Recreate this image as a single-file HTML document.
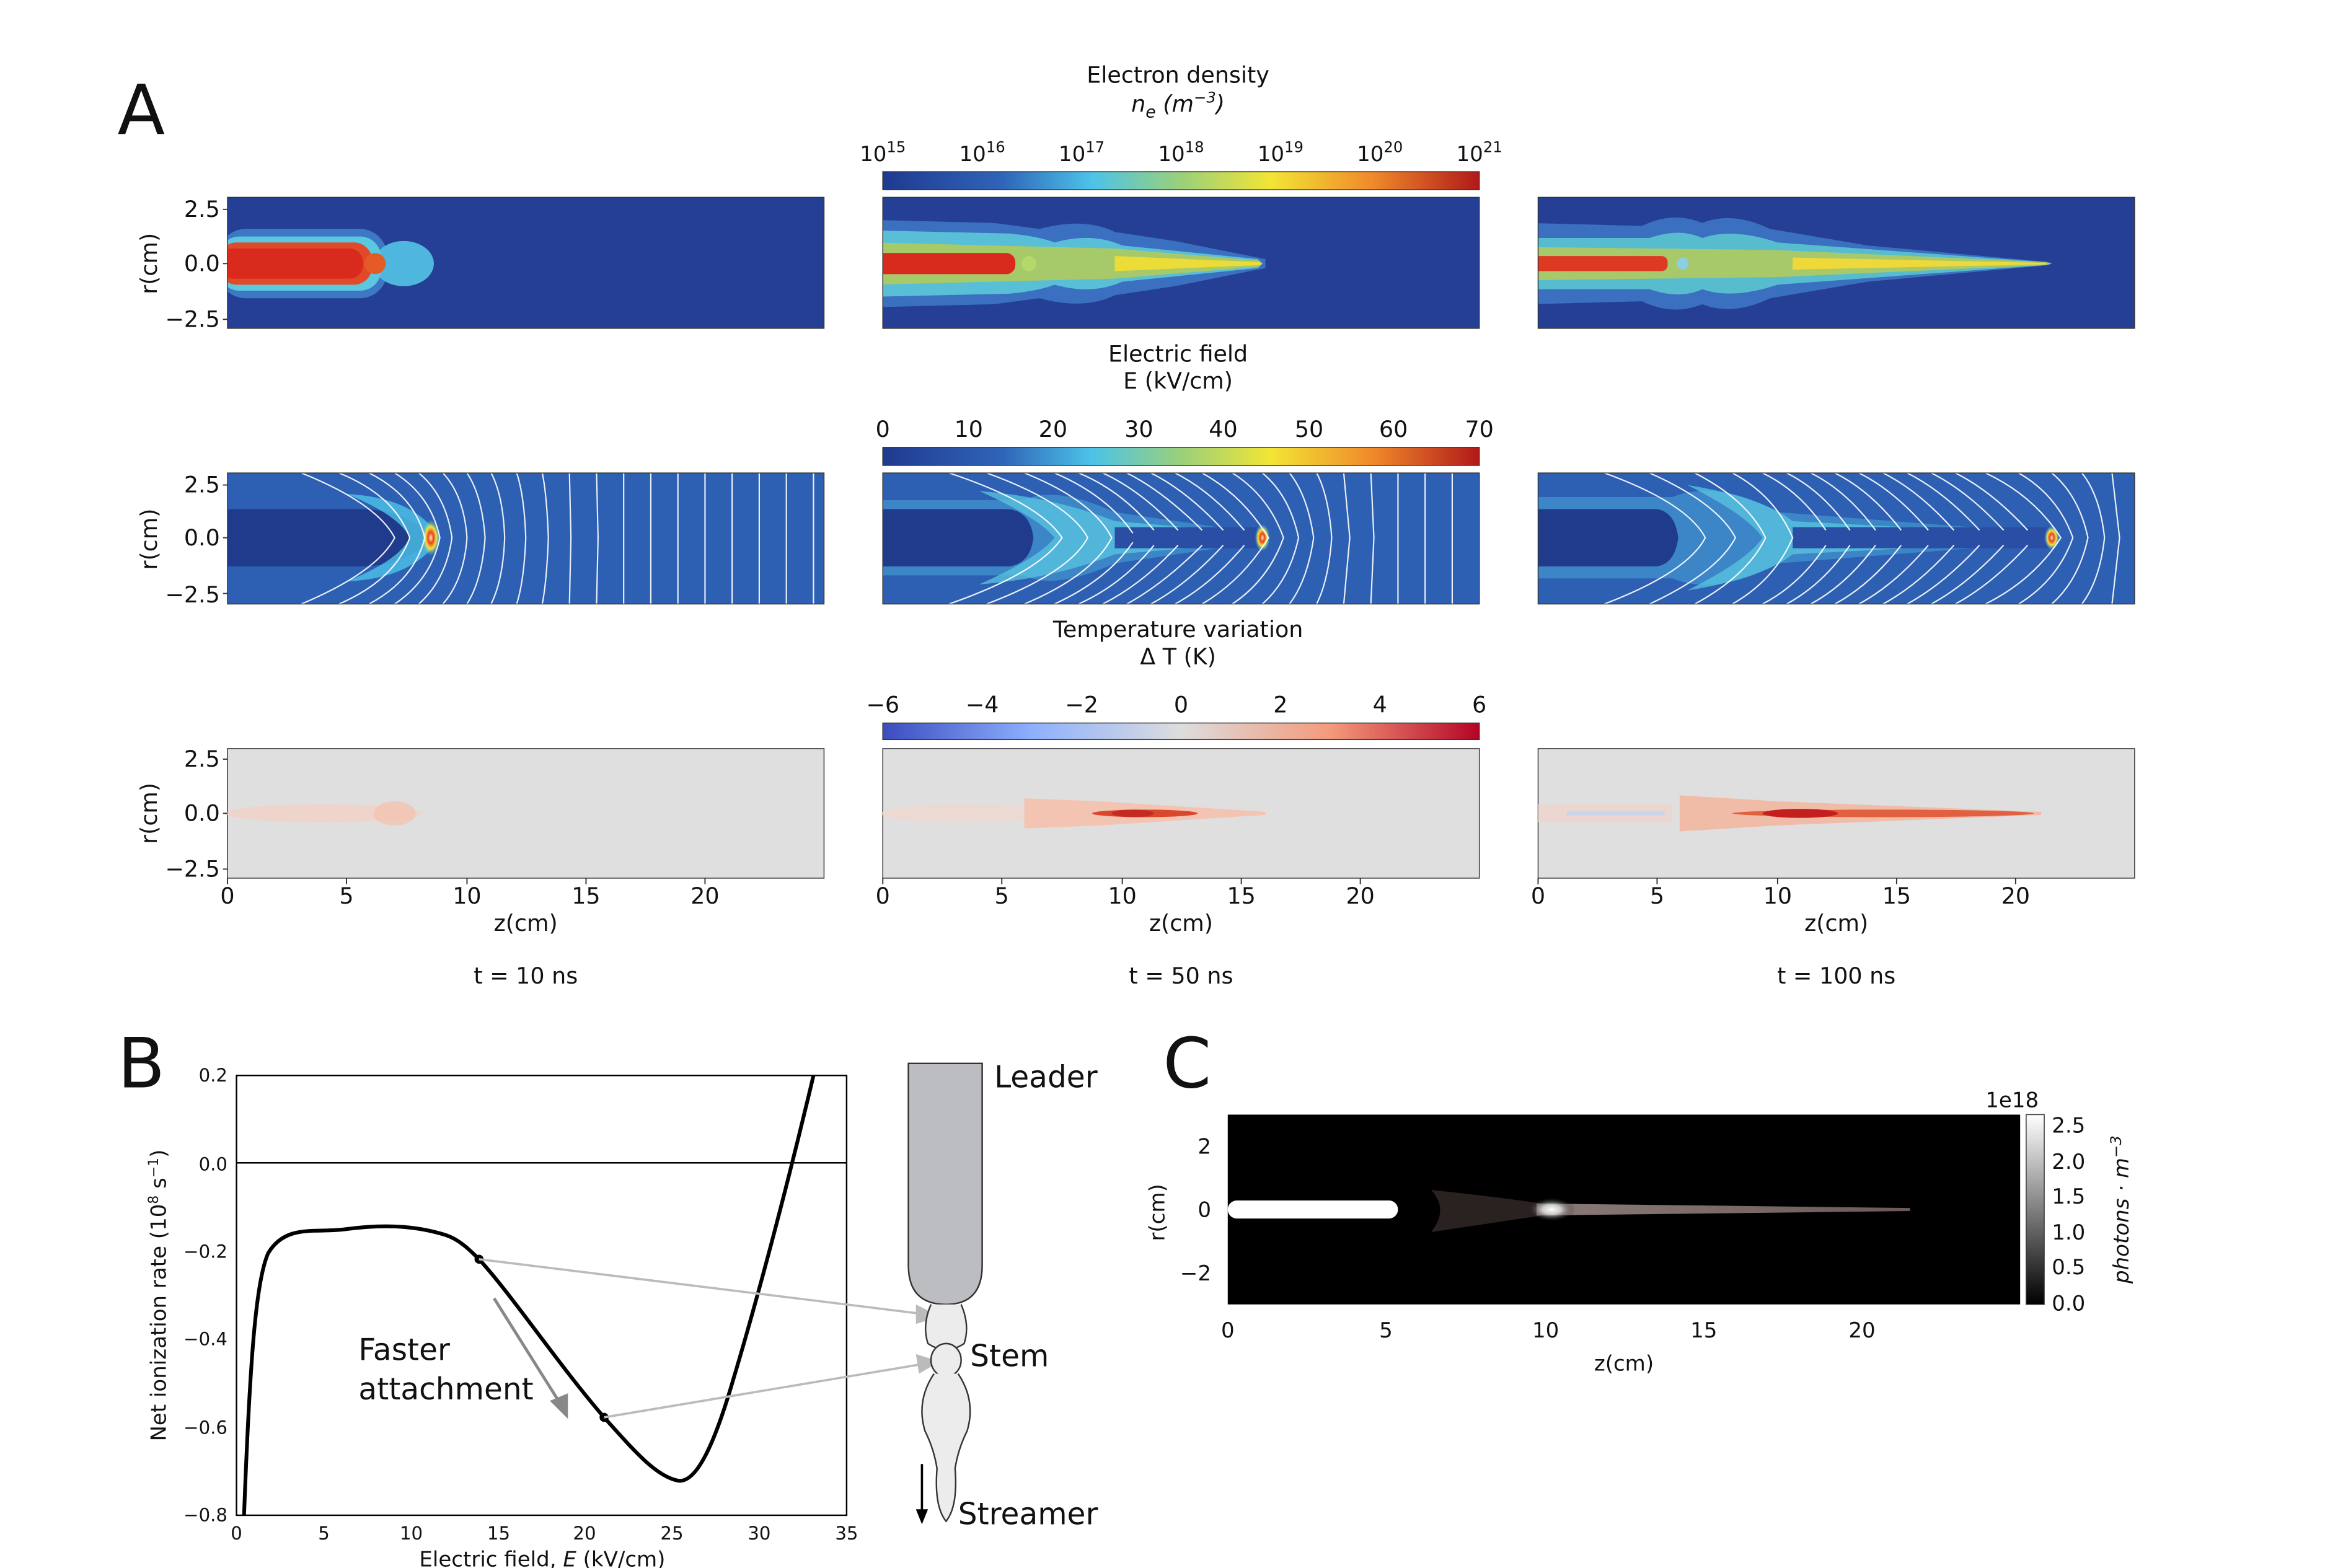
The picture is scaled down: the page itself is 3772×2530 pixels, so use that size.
<!DOCTYPE html>
<html><head><meta charset="utf-8"><style>
html,body{margin:0;padding:0;background:#fff;}
svg{display:block;}
text{font-family:"DejaVu Sans","Liberation Sans",sans-serif;fill:#111;}
</style></head><body>
<svg width="3772" height="2530" viewBox="0 0 1552 1041" preserveAspectRatio="none" xmlns="http://www.w3.org/2000/svg">
<defs>
<linearGradient id="jet" x1="0" x2="1">
<stop offset="0" stop-color="#1f3a8f"/><stop offset="0.2" stop-color="#2f64b8"/><stop offset="0.35" stop-color="#4cc3e8"/><stop offset="0.5" stop-color="#9ad07a"/><stop offset="0.65" stop-color="#f2e535"/><stop offset="0.82" stop-color="#f08a2a"/><stop offset="1" stop-color="#b01919"/></linearGradient>
<linearGradient id="cw" x1="0" x2="1">
<stop offset="0" stop-color="#3b4cc0"/><stop offset="0.25" stop-color="#8db0fe"/><stop offset="0.5" stop-color="#dddddd"/><stop offset="0.75" stop-color="#f49a7b"/><stop offset="1" stop-color="#b40426"/></linearGradient>
<linearGradient id="gray" x1="0" y1="1" x2="0" y2="0"><stop offset="0" stop-color="#000"/><stop offset="1" stop-color="#fff"/></linearGradient>
<radialGradient id="glow"><stop offset="0" stop-color="#fff"/><stop offset="0.4" stop-color="#ddd" stop-opacity="0.8"/><stop offset="1" stop-color="#000" stop-opacity="0"/></radialGradient>
<linearGradient id="streak" x1="0" x2="1"><stop offset="0" stop-color="#8a7a78"/><stop offset="1" stop-color="#6a5a58"/></linearGradient>
<radialGradient id="hotE"><stop offset="0" stop-color="#fff3a0"/><stop offset="0.3" stop-color="#e8402a"/><stop offset="0.6" stop-color="#f2e535"/><stop offset="1" stop-color="#4cc3e8" stop-opacity="0"/></radialGradient>
<clipPath id="c1"><rect x="151" y="131" width="396" height="87"/></clipPath>
<clipPath id="c2"><rect x="586" y="131" width="396" height="87"/></clipPath>
<clipPath id="c3"><rect x="1021" y="131" width="396" height="87"/></clipPath>
<clipPath id="e1"><rect x="151" y="314" width="396" height="87"/></clipPath>
<clipPath id="e2"><rect x="586" y="314" width="396" height="87"/></clipPath>
<clipPath id="e3"><rect x="1021" y="314" width="396" height="87"/></clipPath>
</defs>

<text x="78" y="89" font-size="46" font-family="Liberation Sans">A</text>
<text x="78" y="722" font-size="46" font-family="Liberation Sans">B</text>
<text x="772" y="722" font-size="46" font-family="Liberation Sans">C</text>

<!-- Colorbar 1 -->
<text x="782" y="55" font-size="15" text-anchor="middle">Electron density</text>
<text x="782" y="74" font-size="15" text-anchor="middle" font-style="italic">n<tspan font-size="11" dy="4">e</tspan><tspan dy="-4"> (m</tspan><tspan font-size="10" dy="-6">−3</tspan><tspan dy="6">)</tspan></text>
<rect x="586" y="114" width="396" height="12" fill="url(#jet)" stroke="#333" stroke-width="0.6"/>
<g font-size="14" text-anchor="middle">
<text x="586" y="107">10<tspan font-size="10" dy="-6">15</tspan></text>
<text x="652" y="107">10<tspan font-size="10" dy="-6">16</tspan></text>
<text x="718" y="107">10<tspan font-size="10" dy="-6">17</tspan></text>
<text x="784" y="107">10<tspan font-size="10" dy="-6">18</tspan></text>
<text x="850" y="107">10<tspan font-size="10" dy="-6">19</tspan></text>
<text x="916" y="107">10<tspan font-size="10" dy="-6">20</tspan></text>
<text x="982" y="107">10<tspan font-size="10" dy="-6">21</tspan></text>
</g>

<!-- Colorbar 2 -->
<text x="782" y="240" font-size="15" text-anchor="middle">Electric field</text>
<text x="782" y="258" font-size="15" text-anchor="middle">E (kV/cm)</text>
<rect x="586" y="297" width="396" height="12" fill="url(#jet)" stroke="#333" stroke-width="0.6"/>
<g font-size="15" text-anchor="middle">
<text x="586" y="290">0</text><text x="643" y="290">10</text><text x="699" y="290">20</text><text x="756" y="290">30</text><text x="812" y="290">40</text><text x="869" y="290">50</text><text x="925" y="290">60</text><text x="982" y="290">70</text></g>

<!-- Colorbar 3 -->
<text x="782" y="423" font-size="15" text-anchor="middle">Temperature variation</text>
<text x="782" y="441" font-size="15" text-anchor="middle">Δ T (K)</text>
<rect x="586" y="480" width="396" height="11" fill="url(#cw)" stroke="#333" stroke-width="0.6"/>
<g font-size="15" text-anchor="middle">
<text x="586" y="473">−6</text><text x="652" y="473">−4</text><text x="718" y="473">−2</text><text x="784" y="473">0</text><text x="850" y="473">2</text><text x="916" y="473">4</text><text x="982" y="473">6</text></g>

<!-- Row 1 panels -->
<g clip-path="url(#c1)">
<rect x="151" y="131" width="396" height="87" fill="#243f93"/>
<rect x="145" y="152" width="112" height="46" rx="18" fill="#3d78c4"/>
<ellipse cx="268" cy="175" rx="20" ry="15" fill="#4fb7de"/>
<rect x="145" y="157" width="108" height="36" rx="14" fill="#5cc8e0"/>
<rect x="145" y="161" width="102" height="28" rx="12" fill="#e04a28"/>
<rect x="145" y="165" width="96" height="20" rx="9" fill="#d92a1e"/>
<circle cx="249" cy="175" r="7" fill="#e55b27"/>
</g>
<rect x="151" y="131" width="396" height="87" fill="none" stroke="#333" stroke-width="0.6"/>

<g clip-path="url(#c2)">
<rect x="586" y="131" width="396" height="87" fill="#243f93"/>
<path d="M580,146 L660,148 L690,152 Q720,144 740,154 L780,160 L840,172 L840,178 L780,190 L740,196 Q720,206 690,198 L660,202 L580,204Z" fill="#3b6fbf"/>
<path d="M580,153 L670,155 Q690,157 700,161 Q725,154 745,163 L835,172 L838,175 L835,178 L745,187 Q725,196 700,189 Q690,193 670,195 L580,197Z" fill="#59bfd6"/>
<path d="M580,161 L740,165 L836,173 L838,175 L836,177 L740,185 L580,189Z" fill="#a6c96a"/>
<path d="M740,170 L836,174 L838,175 L836,176 L740,180Z" fill="#ecdc38"/>
<rect x="580" y="168" width="94" height="14" rx="6" fill="#d92a1e"/>
<circle cx="683" cy="175" r="5" fill="#b4d86a"/>
</g>
<rect x="586" y="131" width="396" height="87" fill="none" stroke="#333" stroke-width="0.6"/>

<g clip-path="url(#c3)">
<rect x="1021" y="131" width="396" height="87" fill="#243f93"/>
<path d="M1015,148 L1090,150 Q1110,140 1130,148 Q1150,140 1175,152 L1240,163 L1360,174 L1362,175 L1360,176 L1240,187 L1175,198 Q1150,210 1130,202 Q1110,210 1090,200 L1015,202Z" fill="#3b6fbf"/>
<path d="M1015,158 L1095,158 Q1115,151 1130,158 Q1150,151 1180,161 L1358,174 L1362,175 L1358,176 L1180,189 Q1150,199 1130,192 Q1115,199 1095,192 L1015,192Z" fill="#58bccf"/>
<path d="M1015,164 L1180,166 L1358,174 L1362,175 L1358,176 L1180,184 L1015,186Z" fill="#a8c96a"/>
<path d="M1190,171 L1358,174.5 L1358,175.5 L1190,179Z" fill="#efd93a"/>
<rect x="1015" y="170" width="92" height="10" rx="4" fill="#dc3a22"/>
<circle cx="1117" cy="175" r="4" fill="#8ad0e0"/>
</g>
<rect x="1021" y="131" width="396" height="87" fill="none" stroke="#333" stroke-width="0.6"/>

<!-- Row 2 panels (E field) -->
<g clip-path="url(#e1)">
<rect x="151" y="314" width="396" height="87" fill="#2d5fb2"/>
<path d="M145,338 L240,338 Q262,338 280,350 L290,357 L280,364 Q262,376 240,376 L145,376Z" fill="#203b8c"/>
<path d="M230,328 Q275,330 292,357 Q275,384 230,386 Q265,372 272,357 Q265,342 230,328Z" fill="#4cc3e8" opacity="0.8"/>
<ellipse cx="286" cy="357" rx="6" ry="12" fill="url(#hotE)"/>
<g stroke="#fff" stroke-width="0.9" fill="none" opacity="0.9">
<path d="M200,401 Q250,380 262,357 Q250,334 200,314"/>
<path d="M225,401 Q262,385 272,357 Q262,329 225,314"/>
<path d="M245,401 Q275,385 282,357 Q275,329 245,314"/>
<path d="M262,401 Q286,385 292,357 Q286,329 262,314"/>
<path d="M278,401 Q296,385 300,357 Q296,329 278,314"/>
<path d="M294,401 Q308,385 310,357 Q308,329 294,314"/>
<path d="M310,401 Q320,385 322,357 Q320,329 310,314"/>
<path d="M326,401 Q334,385 335,357 Q334,329 326,314"/>
<path d="M343,401 Q348,385 349,357 Q348,329 343,314"/>
<path d="M360,401 Q363,385 364,357 Q363,329 360,314"/>
<path d="M378,401 L379,357 L378,314"/><path d="M396,401 L397,357 L396,314"/><path d="M414,401 L414,314"/><path d="M432,401 L432,314"/><path d="M450,401 L450,314"/><path d="M468,401 L468,314"/><path d="M486,401 L486,314"/><path d="M504,401 L504,314"/><path d="M522,401 L522,314"/><path d="M540,401 L540,314"/>
</g>
</g>
<rect x="151" y="314" width="396" height="87" fill="none" stroke="#333" stroke-width="0.6"/>

<g clip-path="url(#e2)">
<rect x="586" y="314" width="396" height="87" fill="#2d5fb2"/>
<path d="M580,332 L680,332 Q700,322 740,340 L836,354 L842,357 L836,360 L740,374 Q700,392 680,382 L580,382Z" fill="#3c86c8"/>
<path d="M650,326 Q700,330 740,346 L836,354 L836,360 L740,368 Q700,384 650,388 Q690,370 700,357 Q690,344 650,326Z" fill="#58c6df" opacity="0.75"/>
<path d="M580,338 L670,338 Q684,340 686,357 Q684,374 670,376 L580,376Z" fill="#203b8c"/>
<rect x="740" y="350" width="95" height="14" fill="#2a4ea4"/>
<ellipse cx="838" cy="357" rx="5" ry="9" fill="url(#hotE)"/>
<g stroke="#fff" stroke-width="0.9" fill="none" opacity="0.9">
<path d="M630,401 Q690,380 705,357 Q690,334 630,314"/>
<path d="M655,401 Q710,380 722,357 Q710,334 655,314"/>
<path d="M680,401 Q725,382 738,357 Q725,332 680,314"/>
<path d="M700,401 Q735,385 752,360 M752,354 Q735,329 700,314"/>
<path d="M716,401 Q745,388 766,362 M766,352 Q745,326 716,314"/>
<path d="M732,401 Q758,388 782,362 M782,352 Q758,326 732,314"/>
<path d="M748,401 Q772,388 798,362 M798,352 Q772,326 748,314"/>
<path d="M764,401 Q788,388 812,362 M812,352 Q788,326 764,314"/>
<path d="M780,401 Q804,388 826,362 M826,352 Q804,326 780,314"/>
<path d="M798,401 Q825,385 842,357 Q825,329 798,314"/>
<path d="M818,401 Q842,385 852,357 Q842,329 818,314"/>
<path d="M838,401 Q856,385 862,357 Q856,329 838,314"/>
<path d="M856,401 Q868,385 872,357 Q868,329 856,314"/>
<path d="M874,401 Q882,385 884,357 Q882,329 874,314"/>
<path d="M892,401 L896,357 L892,314"/><path d="M910,401 L912,357 L910,314"/><path d="M928,401 L928,314"/><path d="M946,401 L946,314"/><path d="M964,401 L964,314"/>
</g>
</g>
<rect x="586" y="314" width="396" height="87" fill="none" stroke="#333" stroke-width="0.6"/>

<g clip-path="url(#e3)">
<rect x="1021" y="314" width="396" height="87" fill="#2d5fb2"/>
<path d="M1015,330 L1110,330 Q1140,318 1180,340 L1360,354 L1366,357 L1360,360 L1180,374 Q1140,396 1110,384 L1015,384Z" fill="#3c86c8"/>
<path d="M1120,322 Q1170,330 1190,346 L1360,355 L1360,359 L1190,368 Q1170,384 1120,392 Q1160,372 1170,357 Q1160,342 1120,322Z" fill="#58c6df" opacity="0.75"/>
<path d="M1015,338 L1100,338 Q1112,340 1114,357 Q1112,374 1100,376 L1015,376Z" fill="#203b8c"/>
<rect x="1190" y="350" width="170" height="14" fill="#2a4ea4"/>
<ellipse cx="1362" cy="357" rx="5" ry="8" fill="url(#hotE)"/>
<g stroke="#fff" stroke-width="0.9" fill="none" opacity="0.9">
<path d="M1065,401 Q1120,380 1132,357 Q1120,334 1065,314"/>
<path d="M1095,401 Q1140,380 1152,357 Q1140,334 1095,314"/>
<path d="M1125,401 Q1160,382 1172,357 Q1160,332 1125,314"/>
<path d="M1150,401 Q1178,385 1190,357 Q1178,329 1150,314"/>
<path d="M1170,401 Q1195,388 1212,362 M1212,352 Q1195,326 1170,314"/>
<path d="M1186,401 Q1210,388 1228,362 M1228,352 Q1210,326 1186,314"/>
<path d="M1202,401 Q1226,388 1245,362 M1245,352 Q1226,326 1202,314"/>
<path d="M1218,401 Q1242,388 1262,362 M1262,352 Q1242,326 1218,314"/>
<path d="M1234,401 Q1258,388 1280,362 M1280,352 Q1258,326 1234,314"/>
<path d="M1250,401 Q1274,388 1297,362 M1297,352 Q1274,326 1250,314"/>
<path d="M1266,401 Q1290,388 1314,362 M1314,352 Q1290,326 1266,314"/>
<path d="M1282,401 Q1306,388 1330,362 M1330,352 Q1306,326 1282,314"/>
<path d="M1298,401 Q1322,388 1346,362 M1346,352 Q1322,326 1298,314"/>
<path d="M1318,401 Q1350,385 1368,357 Q1350,329 1318,314"/>
<path d="M1340,401 Q1366,385 1376,357 Q1366,329 1340,314"/>
<path d="M1362,401 Q1380,385 1386,357 Q1380,329 1362,314"/>
<path d="M1382,401 Q1394,385 1397,357 Q1394,329 1382,314"/>
<path d="M1402,401 L1407,357 L1402,314"/>
</g>
</g>
<rect x="1021" y="314" width="396" height="87" fill="none" stroke="#333" stroke-width="0.6"/>

<!-- Row 3 panels (Temperature) -->
<rect x="151" y="497" width="396" height="86" fill="#dfdfdf" stroke="#333" stroke-width="0.6"/>
<ellipse cx="215" cy="540" rx="65" ry="6" fill="#f3cfc0" opacity="0.7"/>
<ellipse cx="262" cy="540" rx="14" ry="8" fill="#f2c3b0" opacity="0.8"/>

<rect x="586" y="497" width="396" height="86" fill="#dfdfdf" stroke="#333" stroke-width="0.6"/>
<ellipse cx="640" cy="540" rx="55" ry="6" fill="#f0d6cc" opacity="0.7"/>
<path d="M680,530 L730,532 L840,539 L840,541 L730,548 L680,550Z" fill="#f3c4b2"/>
<ellipse cx="760" cy="540" rx="35" ry="2.5" fill="#d9472c"/>
<ellipse cx="752" cy="540" rx="14" ry="2.5" fill="#c52a22"/>

<rect x="1021" y="497" width="396" height="86" fill="#dfdfdf" stroke="#333" stroke-width="0.6"/>
<path d="M1021,534 L1110,534 L1110,546 L1021,546Z" fill="#ecd6d0"/>
<rect x="1040" y="538.5" width="65" height="3" fill="#c8d6ec"/>
<path d="M1115,528 L1180,532 L1355,539 L1355,541 L1180,548 L1115,552Z" fill="#f0bca8"/>
<ellipse cx="1250" cy="540" rx="100" ry="2.5" fill="#e06040"/>
<ellipse cx="1195" cy="540" rx="25" ry="3" fill="#c41e1e"/>

<!-- y axes rows -->
<g font-size="15" text-anchor="end">
<text x="146" y="144">2.5</text><text x="146" y="180">0.0</text><text x="146" y="217">−2.5</text>
<text x="146" y="327">2.5</text><text x="146" y="362">0.0</text><text x="146" y="400">−2.5</text>
<text x="146" y="509">2.5</text><text x="146" y="545">0.0</text><text x="146" y="582">−2.5</text>
</g>
<g font-size="15" text-anchor="middle">
<text transform="translate(104,175) rotate(-90)">r(cm)</text>
<text transform="translate(104,358) rotate(-90)">r(cm)</text>
<text transform="translate(104,540) rotate(-90)">r(cm)</text>
</g>
<g stroke="#333" stroke-width="0.8">
<path d="M148,139h3M148,175h3M148,212h3M148,322h3M148,357h3M148,394h3M148,504h3M148,540h3M148,577h3"/>
<path d="M151,583v4M230,583v4M310,583v4M389,583v4M468,583v4"/>
<path d="M586,583v4M665,583v4M745,583v4M824,583v4M903,583v4"/>
<path d="M1021,583v4M1100,583v4M1180,583v4M1259,583v4M1338,583v4"/>
</g>
<g font-size="15" text-anchor="middle">
<text x="151" y="600">0</text><text x="230" y="600">5</text><text x="310" y="600">10</text><text x="389" y="600">15</text><text x="468" y="600">20</text>
<text x="586" y="600">0</text><text x="665" y="600">5</text><text x="745" y="600">10</text><text x="824" y="600">15</text><text x="903" y="600">20</text>
<text x="1021" y="600">0</text><text x="1100" y="600">5</text><text x="1180" y="600">10</text><text x="1259" y="600">15</text><text x="1338" y="600">20</text>
<text x="349" y="618">z(cm)</text><text x="784" y="618">z(cm)</text><text x="1219" y="618">z(cm)</text>
<text x="349" y="653">t = 10 ns</text><text x="784" y="653">t = 50 ns</text><text x="1219" y="653">t = 100 ns</text>
</g>

<!-- Panel B -->
<rect x="157" y="714" width="405" height="292" fill="none" stroke="#000" stroke-width="1"/>
<line x1="157" y1="772" x2="562" y2="772" stroke="#000" stroke-width="1"/>
<g font-size="12" text-anchor="end">
<text x="151" y="718">0.2</text><text x="151" y="777">0.0</text><text x="151" y="835">−0.2</text><text x="151" y="893">−0.4</text><text x="151" y="952">−0.6</text><text x="151" y="1010">−0.8</text></g>
<g font-size="12" text-anchor="middle">
<text x="157" y="1022">0</text><text x="215" y="1022">5</text><text x="273" y="1022">10</text><text x="331" y="1022">15</text><text x="388" y="1022">20</text><text x="446" y="1022">25</text><text x="504" y="1022">30</text><text x="562" y="1022">35</text>
<text x="360" y="1040" font-size="14">Electric field, <tspan font-style="italic">E</tspan> (kV/cm)</text>
<text transform="translate(110,860) rotate(-90)" font-size="14">Net ionization rate (10<tspan font-size="9" dy="-5">8</tspan><tspan dy="5"> s</tspan><tspan font-size="9" dy="-5">−1</tspan><tspan dy="5">)</tspan></text>
</g>
<path d="M162,1006 C166,900 170,850 178,832 C190,812 210,819 230,816 C260,812 280,815 296,820 C305,823 312,830 318,836 C340,860 370,905 401,941 C420,962 435,980 450,983 C462,985 474,960 487,915 C502,865 522,790 540,714" fill="none" stroke="#000" stroke-width="2.5"/>
<circle cx="318" cy="836" r="3" fill="#000"/><circle cx="401" cy="941" r="3" fill="#000"/>
<text x="238" y="903" font-size="20" font-family="Liberation Sans">Faster</text>
<text x="238" y="929" font-size="20" font-family="Liberation Sans">attachment</text>
<line x1="328" y1="862" x2="372" y2="932" stroke="#888" stroke-width="2"/>
<path d="M377,942 L365,930 L377,925Z" fill="#888"/>
<line x1="318" y1="836" x2="610" y2="872" stroke="#bbb" stroke-width="1.5"/>
<path d="M624,874 L608,866 L608,879Z" fill="#bbb"/>
<line x1="401" y1="941" x2="610" y2="906" stroke="#bbb" stroke-width="1.5"/>
<path d="M624,904 L608,899 L610,912Z" fill="#bbb"/>

<!-- Leader diagram -->
<path d="M603,706 L652,706 L652,840 Q652,866 628,866 Q603,866 603,840Z" fill="#bcbdc0" stroke="#333" stroke-width="1"/>
<path d="M618,866 Q612,880 616,892 Q628,900 640,892 Q644,880 638,866" fill="#ececec" stroke="#333" stroke-width="1"/>
<ellipse cx="628" cy="903" rx="10" ry="11" fill="#ececec" stroke="#333" stroke-width="1"/>
<path d="M620,912 Q608,930 614,950 Q620,962 622,975 Q620,1000 628,1010 Q636,1000 634,975 Q636,962 642,950 Q648,930 636,912" fill="#ececec" stroke="#333" stroke-width="1"/>
<line x1="612" y1="972" x2="612" y2="1004" stroke="#000" stroke-width="1.5"/><path d="M612,1012 L608,1002 L616,1002Z" fill="#000"/>
<text x="660" y="722" font-size="20" font-family="Liberation Sans">Leader</text>
<text x="644" y="907" font-size="20" font-family="Liberation Sans">Stem</text>
<text x="636" y="1012" font-size="20" font-family="Liberation Sans">Streamer</text>

<!-- Panel C -->
<rect x="815" y="740" width="526" height="126" fill="#000"/>
<path d="M950,790 Q962,803 950,818 Q990,812 1030,806 L1030,800 Q990,794 950,790Z" fill="#2a2220"/>
<path d="M1020,799 L1268,802 L1268,804 L1020,807Z" fill="url(#streak)"/>
<ellipse cx="1030" cy="803" rx="16" ry="8" fill="url(#glow)"/>
<rect x="815" y="797" width="113" height="12" rx="6" fill="#fff"/>
<rect x="1345" y="740" width="12" height="126" fill="url(#gray)" stroke="#333" stroke-width="0.6"/>
<g font-size="14">
<text x="1362" y="752">2.5</text><text x="1362" y="776">2.0</text><text x="1362" y="799">1.5</text><text x="1362" y="823">1.0</text><text x="1362" y="846">0.5</text><text x="1362" y="870">0.0</text>
<text x="1318" y="735">1e18</text>
<text transform="translate(1413,803) rotate(-90)" text-anchor="middle" font-style="italic">photons · m<tspan font-size="10" dy="-5">−3</tspan></text>
</g>
<g font-size="14" text-anchor="end"><text x="804" y="766">2</text><text x="804" y="808">0</text><text x="804" y="850">−2</text></g>
<text transform="translate(773,805) rotate(-90)" font-size="14" text-anchor="middle">r(cm)</text>
<g font-size="14" text-anchor="middle"><text x="815" y="888">0</text><text x="920" y="888">5</text><text x="1026" y="888">10</text><text x="1131" y="888">15</text><text x="1236" y="888">20</text>
<text x="1078" y="910">z(cm)</text></g>
</svg>
</body></html>
